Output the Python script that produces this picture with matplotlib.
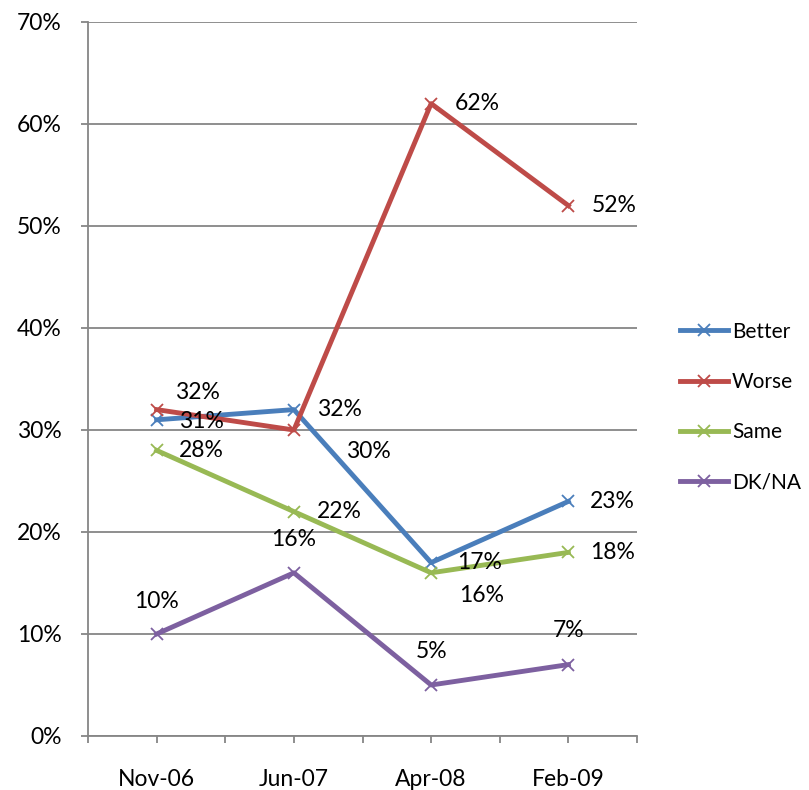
import matplotlib
matplotlib.use("Agg")
import matplotlib.pyplot as plt
from matplotlib.ticker import FixedLocator, FuncFormatter

plt.rcParams["font.family"] = ["Lato", "DejaVu Sans"]

# data
months = ["Nov-06", "Jun-07", "Apr-08", "Feb-09"]
better = [31, 32, 17, 23]
worse = [32, 30, 62, 52]
same = [28, 22, 16, 18]
dkna = [10, 16, 5, 7]

series = [("Better", better, "#4A7EBB"),
          ("Worse", worse, "#BE4B48"),
          ("Same", same, "#98B954"),
          ("DK/NA", dkna, "#7D60A0")]

# label offsets in pixels (dx, dy) per series / point
offsets = {
    "Better": [(45, -2), (46, 0), (48, 0), (44, 0)],
    "Worse": [(41, 17), (75, -22), (46, 0), (46, 0)],
    "Same": [(45, 0), (45, 0), (50, -23), (44, 0)],
    "DK/NA": [(0, 33), (0, 33), (0, 33), (0, 34)],
}

FS = 16.5

fig = plt.figure(figsize=(8.09, 7.90), dpi=100)
ax = fig.add_axes([88/809, 1-736/790, (637-88)/809, (736-22)/790])

x = list(range(len(months)))
for name, vals, col in series:
    ax.plot(x, vals, color=col, lw=3.5, marker="x", ms=9, mew=1.3,
            label=name, zorder=3, solid_joinstyle="round")
    for xi, v, (dx, dy) in zip(x, vals, offsets[name]):
        ax.annotate(f"{v}%", (xi, v), xytext=(dx, dy), textcoords="offset pixels",
                    ha="center", va="center", fontsize=FS, color="black", zorder=4)

ax.set_xlim(-0.5, 3.5)
ax.set_ylim(0, 70)
ax.set_yticks(range(0, 71, 10))
ax.yaxis.set_major_formatter(FuncFormatter(lambda v, p: f"{int(v)}%"))
ax.set_xticks(x)
ax.set_xticklabels(months)
ax.xaxis.set_minor_locator(FixedLocator([-0.5, 0.5, 1.5, 2.5, 3.5]))

ax.grid(axis="y", color="#868686", lw=1.3, zorder=0)
ax.set_axisbelow(True)
for s in ["top", "right"]:
    ax.spines[s].set_visible(False)
for s in ["left", "bottom"]:
    ax.spines[s].set_color("#868686")
    ax.spines[s].set_linewidth(1.3)
ax.tick_params(axis="both", which="both", color="#868686", width=1.3, length=5,
               labelsize=FS)
ax.tick_params(axis="y", pad=14)
ax.tick_params(axis="x", pad=19)

fig.legend(loc="center left", bbox_to_anchor=(680/809, 1-407/790), frameon=False,
           fontsize=15, handlelength=2.3, labelspacing=1.45, handletextpad=0.2,
           borderaxespad=0, borderpad=0)

fig.savefig("out.png", dpi=100, facecolor="white")
